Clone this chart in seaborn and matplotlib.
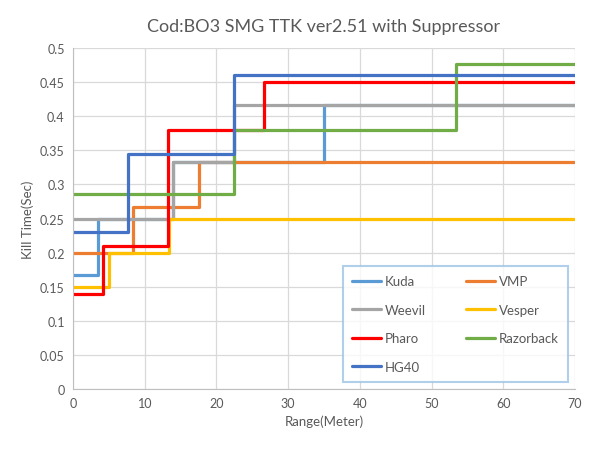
import pandas as pd
import numpy as np
import matplotlib
matplotlib.use("Agg")
import matplotlib.pyplot as plt
import seaborn as sns

# weapons in series order (later ones drawn on top)
weapons = ["Kuda", "VMP", "Weevil", "Vesper", "Pharo", "Razorback", "HG40"]
colors = ["#5B9BD5", "#ED7D31", "#A5A5A5", "#FFC000", "#FF0000", "#70AD47", "#4472C4"]

# range where each damage step starts (meters) and kill time (sec) for that step
kuda_range = [0, 3.5, 14, 35]
kuda_ttk = [0.167, 0.25, 0.333, 0.417]
vmp_range = [0, 8.3, 17.5]
vmp_ttk = [0.2, 0.267, 0.333]
weevil_range = [0, 14, 22.5]
weevil_ttk = [0.25, 0.333, 0.417]
vesper_range = [0, 5, 13.4]
vesper_ttk = [0.15, 0.2, 0.25]
pharo_range = [0, 4.2, 13.3, 26.6]
pharo_ttk = [0.14, 0.21, 0.38, 0.45]
razorback_range = [0, 22.5, 53.4]
razorback_ttk = [0.286, 0.38, 0.476]
hg40_range = [0, 7.7, 22.4]
hg40_ttk = [0.23, 0.345, 0.46]

max_range = 70

ranges = [kuda_range, vmp_range, weevil_range, vesper_range, pharo_range, razorback_range, hg40_range]
ttks = [kuda_ttk, vmp_ttk, weevil_ttk, vesper_ttk, pharo_ttk, razorback_ttk, hg40_ttk]

rows = []
for name, r, t in zip(weapons, ranges, ttks):
    xs = list(r) + [max_range]
    ys = list(t) + [t[-1]]
    for x, y in zip(xs, ys):
        rows.append({"weapon": name, "range": x, "ttk": y})
df = pd.DataFrame(rows)

sns.set_style("white")
plt.rcParams["font.family"] = ["Lato", "DejaVu Sans"]

fig = plt.figure(figsize=(5.99, 4.56), dpi=100)
ax = fig.add_axes([0.1219, 0.1447, 0.8381, 0.7478])

txt = "#595959"
for name, c in zip(weapons, colors):
    sns.lineplot(data=df[df["weapon"] == name], x="range", y="ttk", color=c,
                 drawstyle="steps-post", linewidth=2.3, ax=ax, label=name,
                 estimator=None, sort=False)

ax.set_xlim(0, 70)
ax.set_ylim(0, 0.5)
ax.set_xticks(np.arange(0, 71, 10))
ax.set_yticks(np.arange(0, 0.51, 0.05))
ax.set_yticklabels(["0", "0.05", "0.1", "0.15", "0.2", "0.25", "0.3", "0.35", "0.4", "0.45", "0.5"])
ax.grid(True, color="#D9D9D9", linewidth=0.9)
ax.set_axisbelow(True)
for s in ["top", "right"]:
    ax.spines[s].set_visible(False)
for s in ["left", "bottom"]:
    ax.spines[s].set_color("#BFBFBF")
ax.tick_params(colors=txt, labelsize=9, length=0, pad=6)
ax.set_xlabel("Range(Meter)", color=txt, fontsize=9.5)
ax.set_ylabel("Kill Time(Sec)", color=txt, fontsize=9.5)
ax.set_title("Cod:BO3 SMG TTK ver2.51 with Suppressor", color=txt, fontsize=13, pad=12)

handles, labels = ax.get_legend_handles_labels()
hmap = dict(zip(labels, handles))
order = ["Kuda", "Weevil", "Pharo", "HG40", "VMP", "Vesper", "Razorback"]
leg = ax.legend([hmap[n] for n in order], order, ncol=2, loc="lower right",
                bbox_to_anchor=(0.986, 0.02), borderaxespad=0, frameon=True, fancybox=False,
                fontsize=9.5, labelcolor=txt, handlelength=2.2, handletextpad=0.3,
                columnspacing=3.0, labelspacing=1.25, borderpad=0.7)
leg.get_frame().set_edgecolor("#9DC3E6")
leg.get_frame().set_linewidth(1.5)

fig.savefig("out.png", dpi=100)
